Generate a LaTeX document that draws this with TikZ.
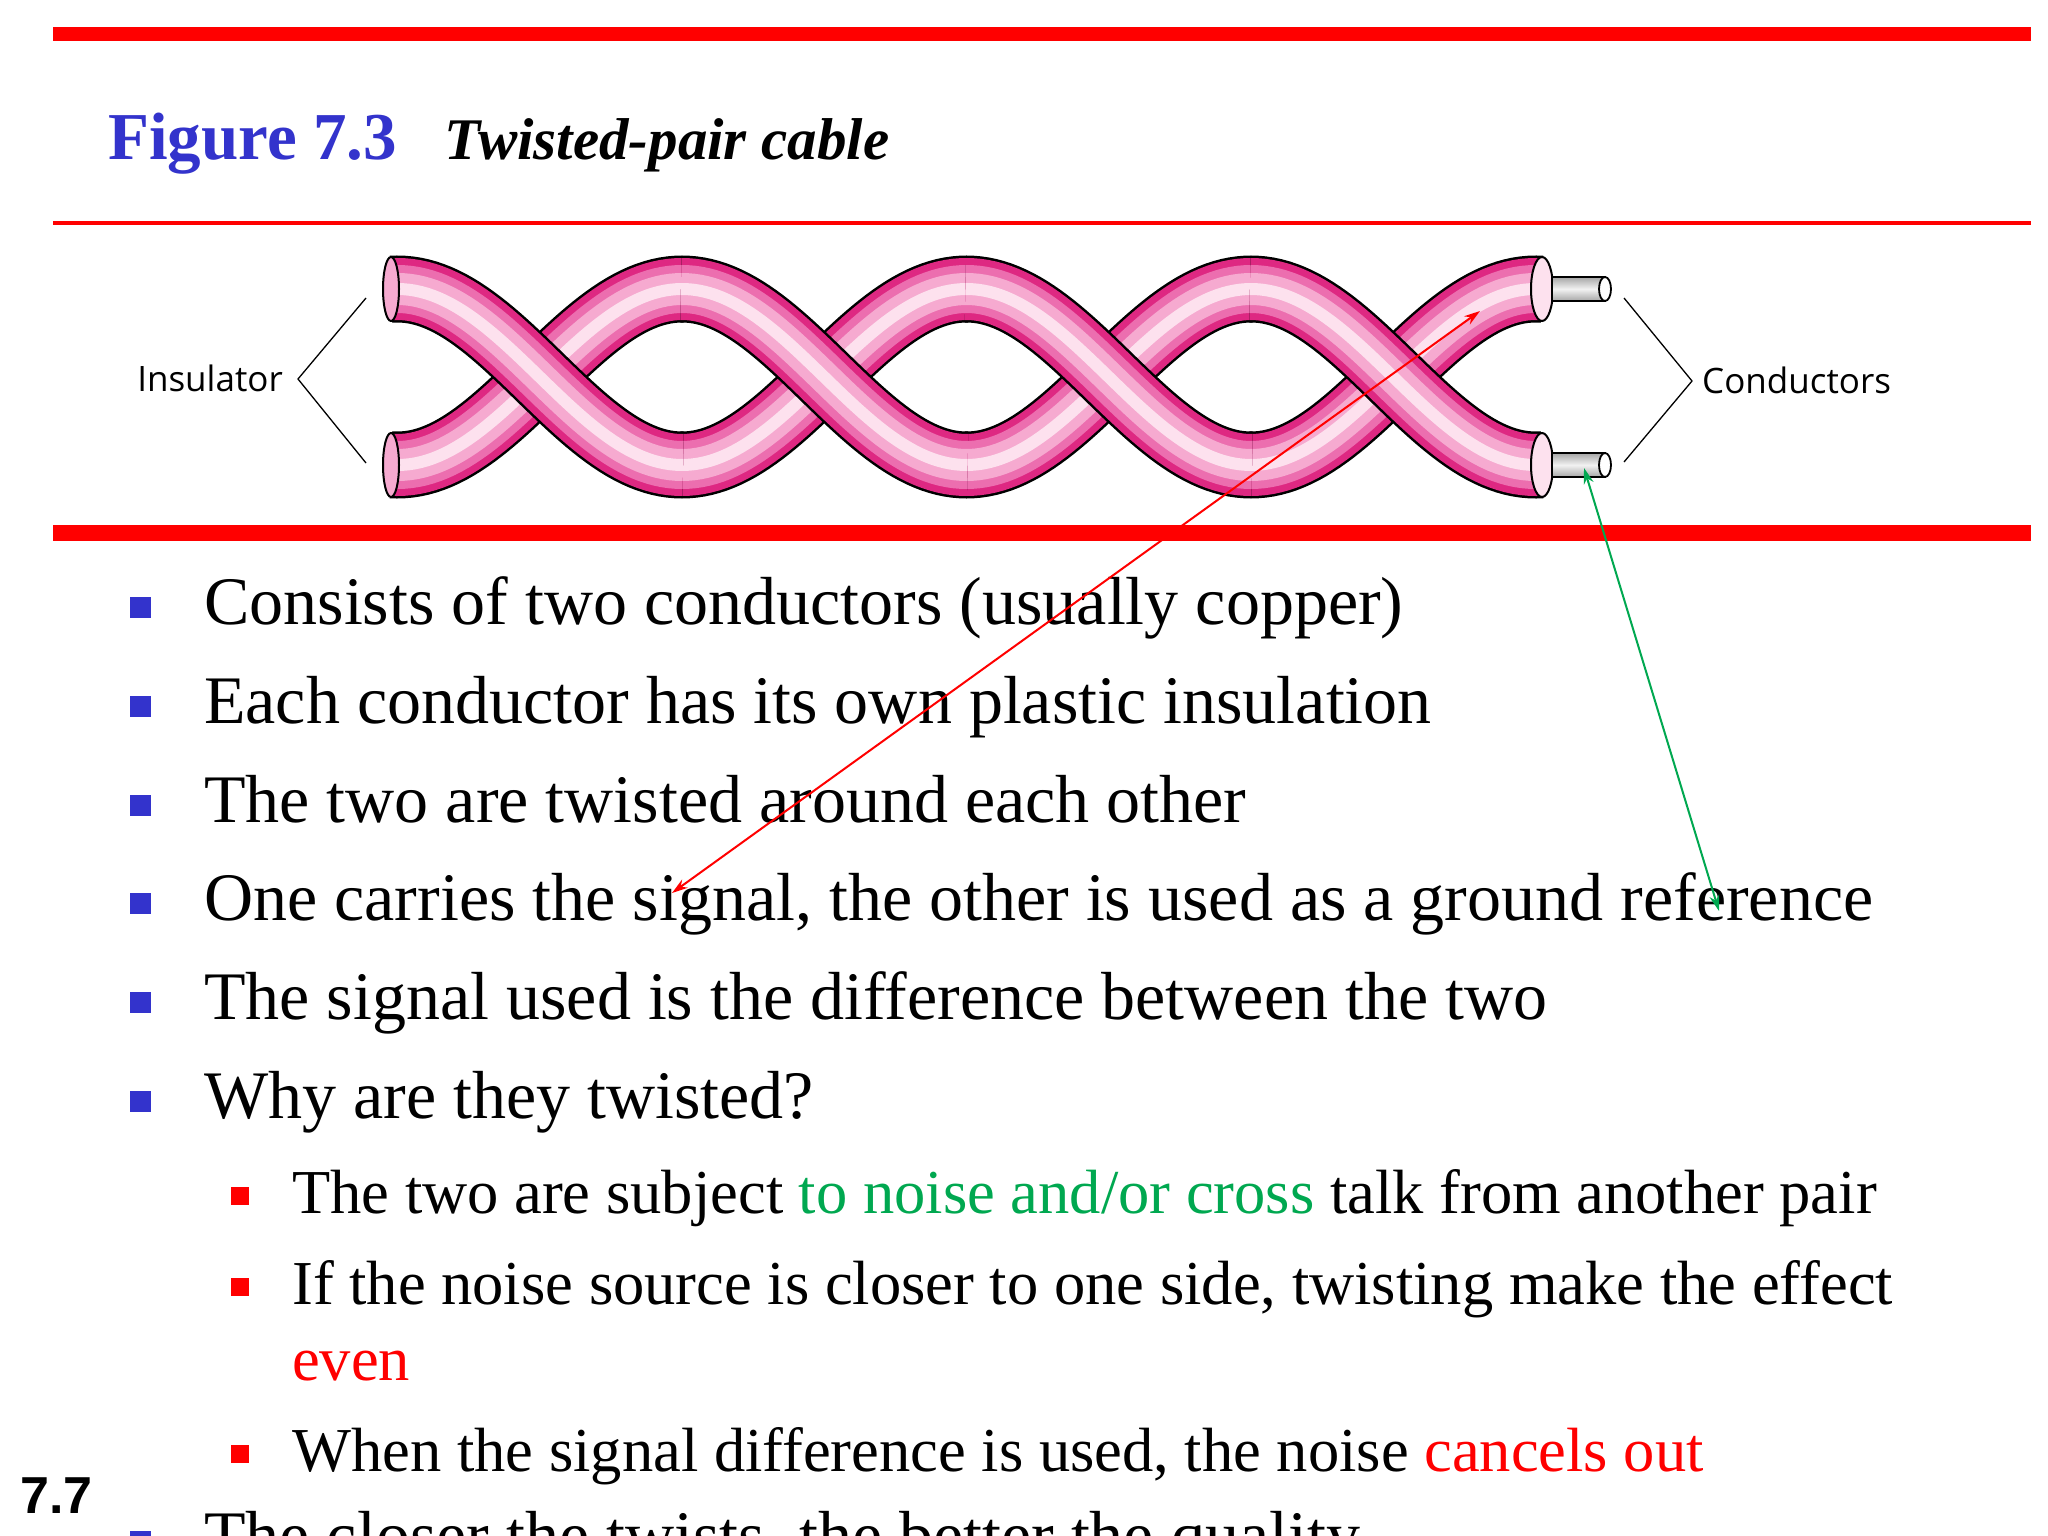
\documentclass[tikz,border=0pt]{standalone}
\usepackage{fontspec}
\usetikzlibrary{arrows.meta}
\setmainfont{Liberation Serif}
\newfontfamily\sans{Liberation Sans}
\newfontfamily\osans{Open Sans}
\definecolor{tblue}{RGB}{51,51,204}
\definecolor{tred}{RGB}{255,0,0}
\definecolor{tgreen}{RGB}{0,168,80}
\definecolor{pkA}{RGB}{222,40,130}
\definecolor{pkB}{RGB}{236,110,175}
\definecolor{pkC}{RGB}{246,170,208}
\definecolor{pkD}{RGB}{253,225,238}
\newcommand\tubeseg[3]{%
 \foreach \w/\c in {67/black,62/pkA,48/pkB,32/pkC,12/pkD}{
  \draw[line width=\w pt, color=\c] plot[domain=#2:#3, samples=50] (\x,{377 #1 88*cos((\x-682)/284.5*180)});
 }}
\begin{document}
\begin{tikzpicture}[x=1pt,y=-1pt,
  bul/.style={fill=tblue, minimum size=21pt, inner sep=0pt},
  sbul/.style={fill=tred, minimum size=18pt, inner sep=0pt},
  txt/.style={anchor=base west, inner sep=0pt, font=\fontsize{68}{76}\selectfont},
  stxt/.style={anchor=base west, inner sep=0pt, font=\fontsize{62.5}{70}\selectfont},
  lbl/.style={inner sep=0pt, font=\osans\fontsize{35}{40}\selectfont},
  brk/.style={line width=1.3pt},
  conn/.style={line width=2pt, {Stealth[length=16pt,width=10pt]}-{Stealth[length=16pt,width=10pt]}}]
\useasboundingbox[fill=white] (0,0) rectangle (2048,1536);
% rules
\fill[tred] (53,27) rectangle (2031,41);
\fill[tred] (53,221) rectangle (2031,225);
\fill[tred] (53,525) rectangle (2031,541);
% title
\node[anchor=base west, inner sep=0pt, text=tblue, font=\bfseries\fontsize{67}{74}\selectfont] (fig) at (108,160) {Figure 7.3};
\node[anchor=base west, inner sep=0pt, font=\bfseries\itshape\fontsize{59}{66}\selectfont] (cap) at (444,160) {Twisted-pair cable};
% cable
\tubeseg{-}{391}{683}
\tubeseg{+}{681}{967.5}
\tubeseg{-}{965.5}{1252}
\tubeseg{+}{1250}{1542}
\tubeseg{+}{391}{683}
\tubeseg{-}{681}{967.5}
\tubeseg{+}{965.5}{1252}
\tubeseg{-}{1250}{1542}
\foreach \yy in {289,465}{
  \draw[line width=2pt, fill=pkC] (391,\yy) ellipse (8 and 32);
  \draw[line width=2pt, fill=pkD] (1542,\yy) ellipse (11 and 32);
  \draw[line width=1.8pt, top color=gray!70, bottom color=gray!70, middle color=gray!10] (1552,\yy-12) rectangle (1605,\yy+12);
  \draw[line width=1.8pt, fill=white] (1605,\yy) ellipse (6 and 12);
}
% brackets
\node[lbl, anchor=east] (ins) at (283,378) {Insulator};
\node[lbl, anchor=west] (con) at (1702,380) {Conductors};
\draw[brk] (366,298) -- (298,379) -- (366,463);
\draw[brk] (1624,298) -- (1692,381) -- (1624,462);
% bullets
\foreach \yy/\t [count=\i] in {607/{Consists of two conductors (usually copper)},
  706/{Each conductor has its own plastic insulation},
  805/{The two are twisted around each other},
  903/{One carries the signal, the other is used as a ground reference},
  1002/{The signal used is the difference between the two},
  1101/{Why are they twisted?},
  1541/{The closer the twists, the better the quality}}{
  \node[bul] (b\i) at (140,\yy) {};
  \node[txt] (t\i) at (204,\yy+17) {\t};
}
\node[sbul] (s1) at (240,1196) {};
\node[stxt] (u1) at (292,1213) {The two are subject \textcolor{tgreen}{to noise and/or cross} talk from another pair};
\node[sbul] (s2) at (240,1287) {};
\node[stxt] (u2) at (292,1304) {If the noise source is closer to one side, twisting make the effect};
\node[stxt, text=tred] (u3) at (292,1380) {even};
\node[sbul] (s3) at (240,1454) {};
\node[stxt] (u4) at (292,1471) {When the signal difference is used, the noise \textcolor{tred}{cancels out}};
\node[anchor=west, inner sep=0pt, font=\sans\bfseries\fontsize{52}{60}\selectfont] (pg) at (20,1496) {7.7};
% arrows
\coordinate (ra) at (672,893);
\coordinate (rb) at (1480,311);
\coordinate (ga) at (1584,468);
\coordinate (gb) at (1719,911);
\draw[conn, color=tred] (ra) -- (rb);
\draw[conn, color=tgreen] (ga) -- (gb);
\end{tikzpicture}
\end{document}
